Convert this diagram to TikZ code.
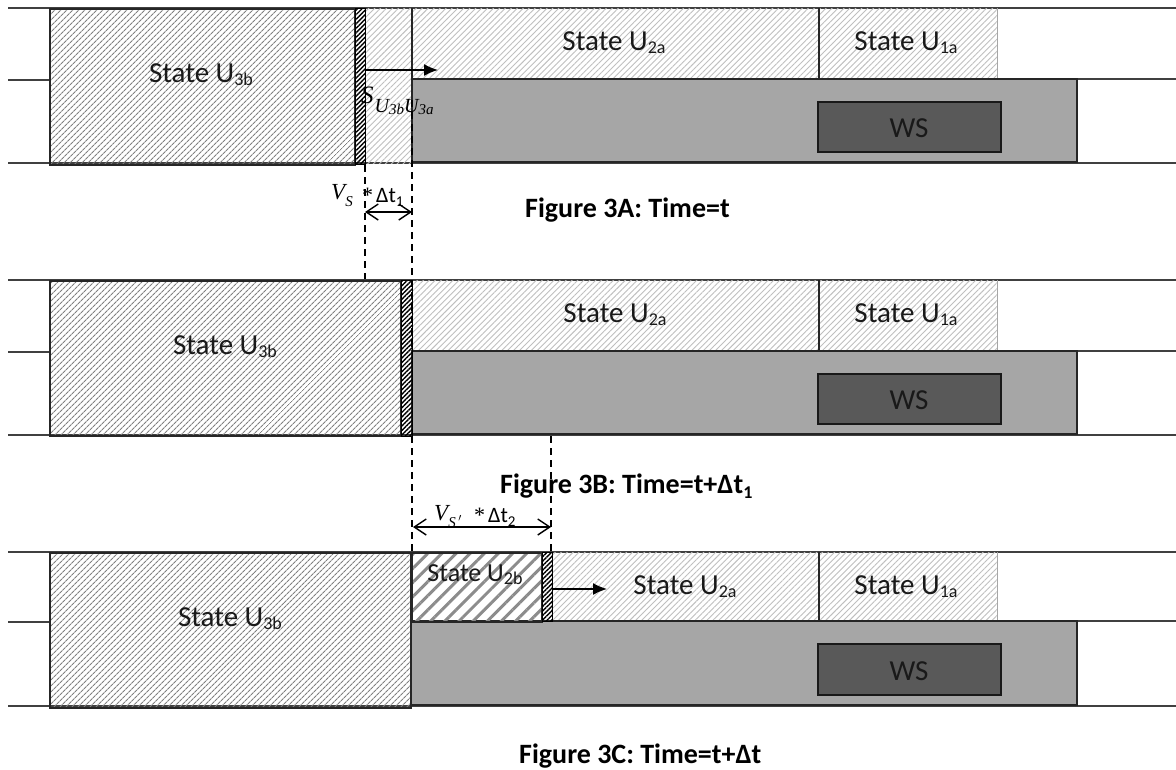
\documentclass[tikz,border=0pt]{standalone}
\usepackage{fontspec}
\setmainfont{Carlito}
\newfontfamily\mitfont{Liberation Serif}
\usetikzlibrary{patterns.meta,arrows.meta}
\definecolor{boxgray}{HTML}{A6A6A6}
\definecolor{wsgray}{HTML}{595959}
\tikzset{
  track/.style={line width=1.6pt, draw=black!75},
  outl/.style={draw=black!85, line width=1.5pt},
  faint/.style={draw=black!35, line width=1pt},
  hdark/.style={pattern={Lines[angle=45,distance=4pt,line width=1.1pt]}, pattern color=black!50},
  hlight/.style={pattern={Lines[angle=45,distance=4.2pt,line width=0.9pt]}, pattern color=black!25},
  hwide/.style={pattern={Lines[angle=45,distance=10pt,line width=3pt]}, pattern color=black!45},
  hstrip/.style={pattern={Lines[angle=45,distance=3.2pt,line width=1.4pt]}, pattern color=black},
  gbox/.style={fill=boxgray, draw=black!85, line width=1.5pt},
  wsbox/.style={fill=wsgray, draw=black!90, line width=1.5pt},
  lbl/.style={font=\fontsize{29}{31}\selectfont, text=black!90, inner sep=0pt, anchor=base},
  captxt/.style={font=\bfseries\fontsize{28}{30}\selectfont, inner sep=0pt, anchor=base west},
  mth/.style={inner sep=0pt, anchor=base west},
  dsh/.style={dash pattern=on 7pt off 5pt, line width=1.5pt},
  dbl/.style={{Straight Barb[length=12pt,width=16pt]}-{Straight Barb[length=12pt,width=16pt]}, line width=1.4pt},
  push/.style={-{Latex[length=14pt,width=12pt]}, line width=1.5pt},
}
\newcommand\sub[1]{\raisebox{-0.12em}{\fontsize{18}{18}\selectfont #1}}
\newcommand\capsub[1]{\raisebox{-0.2em}{\fontsize{18}{18}\selectfont #1}}
\newcommand\mi[2]{{\mitfont\itshape\fontsize{#1}{#1}\selectfont #2}}
\newcommand\ds[2]{{\fontsize{22}{22}\selectfont{\mitfont *}\hspace{3pt}Δt\raisebox{-4pt}{\fontsize{15}{15}\selectfont #2}}}
\begin{document}
\begin{tikzpicture}[x=1pt,y=-1pt]
\useasboundingbox (0,0) rectangle (1176,769);
\fill[white] (0,0) rectangle (1176,769);

% ================= Panel A =================
\draw[track] (8,8) -- (1176,8);
\draw[track] (8,80) -- (50,80);
\draw[track] (1077,79) -- (1176,79);
\draw[track] (8,163) -- (1176,163);
\path[hlight] (365,8) rectangle (412,163);
\path[hlight] (412,8) rectangle (997,79);
\draw[outl] (412,8) -- (412,79);
\draw[outl] (819,8) -- (819,79);
\draw[faint] (997,8) -- (997,79);
\draw[gbox] (412,79) rectangle (1077,162);
\draw[wsbox] (818,102) rectangle (1001,152);
\draw[outl,hdark] (50,9) rectangle (355,165);
\draw[hstrip,draw=black,line width=0.8pt] (355,8) rectangle (365,164);
\node[lbl] (u3bA) at (201,82) {State U\sub{3b}};
\node[lbl] (u2aA) at (614,50) {State U\sub{2a}};
\node[lbl] (u1aA) at (906,50) {State U\sub{1a}};
\node[lbl] (wsA) at (909,137) {WS};
\coordinate (pushAs) at (365,70);
\coordinate (pushAe) at (438,70);
\draw[push] (pushAs) -- (pushAe);
\node[mth] (delta) at (361,103) {\mi{25}{S}\hspace{1pt}\raisebox{-9pt}{\mi{20}{U}\raisebox{-2pt}{\mi{15}{3b}}\mi{20}{U}\raisebox{-2pt}{\mi{15}{3a}}}};
\node[mth] (vs) at (331,199) {\mi{23}{V}\raisebox{-7pt}{\mi{15}{S}}};
\node[mth] (dt1) at (362,202) {\ds{}{1}};
\coordinate (arrAl) at (365,212);
\coordinate (arrAr) at (412,212);
\draw[dbl] (arrAl) -- (arrAr);
\node[captxt] (capA) at (525,217) {Figure 3A: Time=t};

% dashed guides
\coordinate (d1a) at (365,165); \coordinate (d1b) at (365,280);
\coordinate (d2a) at (412,100); \coordinate (d2b) at (412,553);
\coordinate (d3a) at (551,436); \coordinate (d3b) at (551,553);
\draw[dsh] (d1a) -- (d1b);
\draw[dsh] (d2a) -- (d2b);
\draw[dsh] (d3a) -- (d3b);

% ================= Panel B =================
\draw[track] (8,280) -- (1176,280);
\draw[track] (8,352) -- (50,352);
\draw[track] (1077,351) -- (1176,351);
\draw[track] (8,435) -- (1176,435);
\path[hlight] (412,280) rectangle (997,351);
\draw[outl] (819,280) -- (819,351);
\draw[faint] (997,280) -- (997,351);
\draw[gbox] (412,351) rectangle (1077,434);
\draw[wsbox] (818,374) rectangle (1001,424);
\draw[outl,hdark] (50,281) rectangle (401,436);
\draw[hstrip,draw=black,line width=0.8pt] (401,280) rectangle (412,436);
\node[lbl] (u3bB) at (225,354) {State U\sub{3b}};
\node[lbl] (u2aB) at (615,322) {State U\sub{2a}};
\node[lbl] (u1aB) at (906,322) {State U\sub{1a}};
\node[lbl] (wsB) at (909,409) {WS};
\node[captxt] (capB) at (500,493) {Figure 3B: Time=t+Δt\capsub{1}};
\node[mth] (vs2) at (434,520) {\mi{23}{V}\raisebox{-7pt}{\mi{15}{S\/\,$'$}}};
\node[mth] (dt2) at (474,522) {\ds{}{2}};
\coordinate (arrBl) at (413,527);
\coordinate (arrBr) at (551,527);
\draw[dbl] (arrBl) -- (arrBr);

% ================= Panel C =================
\draw[track] (8,552) -- (1176,552);
\draw[track] (8,622) -- (50,622);
\draw[track] (1077,621) -- (1176,621);
\draw[track] (8,706) -- (1176,706);
\path[hlight] (551,552) rectangle (997,621);
\draw[outl] (819,552) -- (819,621);
\draw[faint] (997,552) -- (997,621);
\draw[gbox] (411,621) rectangle (1077,705);
\draw[wsbox] (818,644) rectangle (1001,695);
\draw[outl,hdark] (50,553) rectangle (411,708);
\draw[outl,hwide,line width=2pt] (412,553) rectangle (542,622);
\draw[hstrip,draw=black,line width=0.8pt] (542,552) rectangle (552,621);
\node[lbl] (u3bC) at (230,626) {State U\sub{3b}};
\node[lbl,font=\fontsize{26}{28}\selectfont] (u2bC) at (475,581) {State U\sub{2b}};
\node[lbl] (u2aC) at (685,594) {State U\sub{2a}};
\node[lbl] (u1aC) at (906,594) {State U\sub{1a}};
\node[lbl] (wsC) at (909,680) {WS};
\coordinate (pushCs) at (552,589);
\coordinate (pushCe) at (607,589);
\draw[push] (pushCs) -- (pushCe);
\node[captxt] (capC) at (519,763) {Figure 3C: Time=t+Δt};
\end{tikzpicture}
\end{document}
